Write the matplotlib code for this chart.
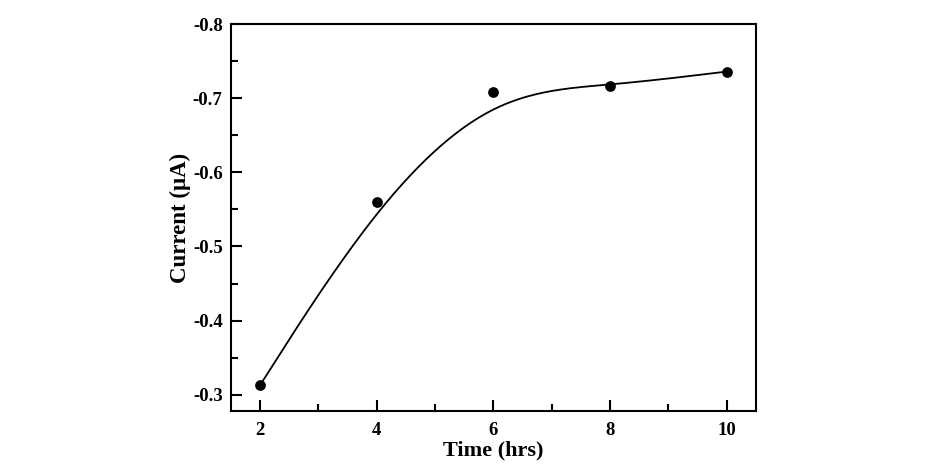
import matplotlib.pyplot as plt
import numpy as np

time_hrs = [2, 4, 6, 8, 10]
current_uA = [-0.313, -0.560, -0.708, -0.717, -0.736]


def bspline(px, py, n=60):
    # uniform cubic B-spline, data points used as control points, end points tripled
    P = np.column_stack([px, py]).astype(float)
    Q = np.vstack([P[:1], P[:1], P, P[-1:], P[-1:]])
    t = np.linspace(0, 1, n)
    B = np.column_stack([(1 - t) ** 3,
                         3 * t ** 3 - 6 * t ** 2 + 4,
                         -3 * t ** 3 + 3 * t ** 2 + 3 * t + 1,
                         t ** 3]) / 6
    segs = [B @ Q[i:i + 4] for i in range(len(Q) - 3)]
    curve = np.vstack(segs)
    return curve[:, 0], curve[:, 1]


plt.rcParams['font.family'] = 'Liberation Serif'
plt.rcParams['font.weight'] = 'bold'

fig = plt.figure(figsize=(9.25, 4.73), dpi=100)
ax = fig.add_axes([0.2497, 0.131, 0.5676, 0.818])

cx, cy = bspline(time_hrs, current_uA)
ax.plot(cx, cy, color='black', linewidth=1.3)
ax.scatter(time_hrs, current_uA, color='black', s=45, zorder=3)

ax.set_xlim(1.5, 10.5)
ax.set_ylim(-0.278, -0.8)
ax.set_xticks([2, 4, 6, 8, 10])
ax.set_xticks([3, 5, 7, 9], minor=True)
ax.set_yticks([-0.8, -0.7, -0.6, -0.5, -0.4, -0.3])
ax.set_yticks([-0.75, -0.65, -0.55, -0.45, -0.35], minor=True)
ax.yaxis.set_major_formatter(plt.FuncFormatter(lambda v, p: f"{v:.1f}"))
ax.tick_params(which='major', direction='in', length=8, width=1.5, labelsize=13.5, pad=8)
ax.tick_params(which='minor', direction='in', length=5, width=1.5)
ax.tick_params(axis='y', pad=6)
for s in ax.spines.values():
    s.set_linewidth(1.5)

ax.set_xlabel('Time (hrs)', fontsize=16, fontweight='bold', labelpad=1)
ax.set_ylabel('Current (\u03bcA)', fontsize=16.5, fontweight='bold', labelpad=1)

fig.savefig('out.png', dpi=100)
